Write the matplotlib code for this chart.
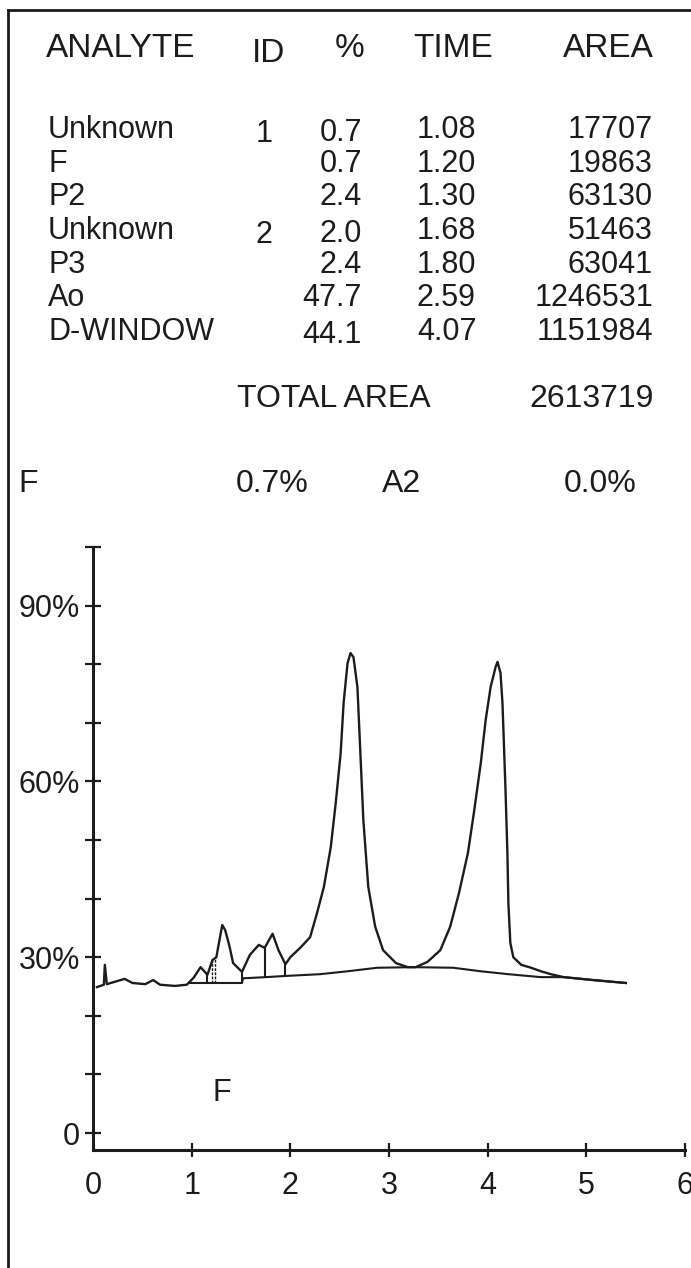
import matplotlib
matplotlib.use('Agg')
import matplotlib.pyplot as plt
from matplotlib import font_manager
from matplotlib.lines import Line2D

# table values printed above the trace
analytes = ['Unknown', 'F', 'P2', 'Unknown', 'P3', 'Ao', 'D-WINDOW']
peak_ids = ['1', '', '', '2', '', '', '']
pcts = ['0.7', '0.7', '2.4', '2.0', '2.4', '47.7', '44.1']
times = ['1.08', '1.20', '1.30', '1.68', '1.80', '2.59', '4.07']
areas = ['17707', '19863', '63130', '51463', '63041', '1246531', '1151984']
total_area = '2613719'
summary = ['F', '0.7%', 'A2', '0.0%']

# chromatogram trace (minutes, % of full scale)
trace_t = [0.04, 0.11, 0.12, 0.14, 0.22, 0.32, 0.40, 0.53, 0.61, 0.68, 0.83, 0.95,
           1.02, 1.09, 1.16, 1.21, 1.25, 1.31, 1.34, 1.38, 1.42, 1.51, 1.59, 1.68,
           1.74, 1.82, 1.88, 1.95, 2.00, 2.10, 2.20, 2.27, 2.34, 2.41, 2.46, 2.51,
           2.54, 2.58, 2.61, 2.64, 2.68, 2.71, 2.74, 2.79, 2.86, 2.94, 3.07, 3.19,
           3.27, 3.39, 3.52, 3.62, 3.71, 3.80, 3.86, 3.93, 3.98, 4.03, 4.08, 4.10,
           4.13, 4.15, 4.18, 4.20, 4.21, 4.23, 4.26, 4.34, 4.44, 4.54, 4.64, 4.77,
           5.07, 5.40]
trace_y = [24.9, 25.3, 28.7, 25.4, 25.8, 26.3, 25.6, 25.4, 26.1, 25.3, 25.1, 25.3,
           26.5, 28.3, 27.0, 29.5, 30.0, 35.5, 34.6, 32.1, 29.0, 27.5, 30.4, 32.1,
           31.6, 34.0, 31.2, 28.8, 30.0, 31.6, 33.4, 37.5, 42.0, 48.8, 56.3, 64.8,
           73.4, 80.2, 81.9, 81.2, 76.1, 64.8, 53.4, 42.0, 35.2, 31.2, 29.0, 28.3,
           28.3, 29.2, 31.2, 35.2, 41.0, 47.8, 54.6, 63.1, 70.5, 76.1, 79.5, 80.4,
           78.5, 73.4, 59.0, 47.8, 39.2, 32.4, 30.0, 28.7, 28.2, 27.6, 27.1, 26.6,
           26.1, 25.6]

# integration baseline under the peaks
base_t = [0.98, 1.51, 1.52, 1.75, 1.95, 2.30, 2.58, 2.88, 3.25, 3.65, 3.93, 4.21,
          4.54, 4.77, 5.07, 5.40]
base_y = [25.6, 25.6, 26.4, 26.6, 26.8, 27.1, 27.6, 28.2, 28.3, 28.2, 27.6, 27.1,
          26.6, 26.6, 26.1, 25.6]

# peak separation drop lines
drop_t = [1.16, 1.51, 1.74, 1.95]
drop_lo = [25.6, 25.6, 26.6, 26.8]
drop_hi = [27.0, 27.5, 31.6, 28.8]
dash_t = [1.21, 1.24]
dash_lo = [25.6, 25.6]
dash_hi = [29.5, 30.0]

W, H = 691, 1268
installed = {f.name for f in font_manager.fontManager.ttflist}
narrow = 'Liberation Sans Narrow' if 'Liberation Sans Narrow' in installed else 'Liberation Sans'
plt.rcParams['font.family'] = 'Liberation Sans'
ink = '#1c1c1c'

fig = plt.figure(figsize=(W / 100, H / 100), dpi=100)
fig.patch.set_facecolor('white')


def px(x, y):
    '''pixel position (origin top left) to figure fraction'''
    return x / W, 1 - y / H


def put(x, y, s, ha='left', size=22, family='Liberation Sans'):
    fx, fy = px(x, y)
    fig.text(fx, fy, s, ha=ha, va='baseline', fontsize=size, family=family, color=ink)


# frame around the printout (only top and left edges fall inside the image)
fig.add_artist(Line2D([8 / W, 1.0], [1 - 10 / H, 1 - 10 / H], color=ink, lw=2, transform=fig.transFigure))
fig.add_artist(Line2D([8 / W, 8 / W], [1 - 10 / H, 0.0], color=ink, lw=2, transform=fig.transFigure))

# header
put(46, 57, 'ANALYTE', size=24, family=narrow)
put(269, 62, 'ID', ha='center', size=24, family=narrow)
put(350, 57, '%', ha='center', size=24, family=narrow)
put(453, 57, 'TIME', ha='center', size=24, family=narrow)
put(654, 57, 'AREA', ha='right', size=24, family=narrow)

# table rows
row0, step = 138, 33.7
for i in range(len(analytes)):
    y = row0 + step * i
    put(48, y, analytes[i])
    if peak_ids[i]:
        put(264, y + 4, peak_ids[i], ha='center')
    put(362, y + (3 if i in (0, 3, 6) else 0), pcts[i], ha='right')
    put(417, y, times[i])
    put(653, y, areas[i], ha='right')

put(334, 407, 'TOTAL AREA', ha='center', size=23, family=narrow)
put(654, 407, total_area, ha='right', size=23, family=narrow)

put(18, 492, summary[0], size=23, family=narrow)
put(272, 492, summary[1], ha='center', size=23, family=narrow)
put(402, 492, summary[2], ha='center', size=23, family=narrow)
put(600, 492, summary[3], ha='center', size=23, family=narrow)

# chromatogram axes
ax = fig.add_axes([93 / W, (H - 1150) / H, 592 / W, 603 / H])
ax.set_xlim(0, 6)
ax.set_ylim(-2.9, 100)
for side in ['top', 'right']:
    ax.spines[side].set_visible(False)
for side in ['left', 'bottom']:
    ax.spines[side].set_color(ink)
    ax.spines[side].set_linewidth(2.2)
ax.patch.set_alpha(0)

ax.set_xticks([0, 1, 2, 3, 4, 5, 6])
ax.set_xticklabels(['0', '1', '2', '3', '4', '5', '6'])
ax.set_yticks([0, 30, 60, 90])
ax.set_yticklabels(['0', '30%', '60%', '90%'])
ax.set_yticks([10, 20, 40, 50, 70, 80, 100], minor=True)
ax.tick_params(axis='x', direction='inout', length=10, width=1.6, color=ink,
               pad=10, labelsize=22, labelcolor=ink)
ax.tick_params(axis='y', which='both', direction='inout', length=11, width=1.6,
               color=ink, pad=4, labelsize=22, labelcolor=ink)
ax.xaxis.get_major_ticks()[0].tick1line.set_visible(False)
ax.yaxis.get_major_ticks()[0].tick1line.set_color('#7f8a8a')

ax.plot(trace_t, trace_y, color=ink, lw=1.7, clip_on=False)
ax.plot(base_t, base_y, color=ink, lw=1.5)
ax.vlines(drop_t, drop_lo, drop_hi, color=ink, lw=1.5)
ax.vlines(dash_t, dash_lo, dash_hi, color=ink, lw=1.0, linestyles=(0, (2, 1)))

ax.text(1.31, 5.5, 'F', fontsize=22, color=ink, ha='center', va='baseline')

fig.savefig('out.png', dpi=100)
